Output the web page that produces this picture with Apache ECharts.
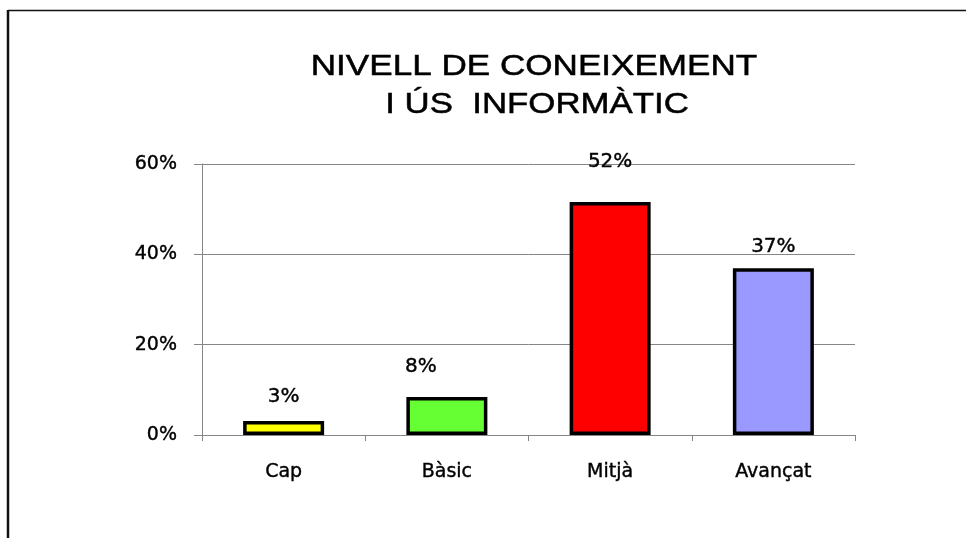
<!DOCTYPE html>
<html>
<head>
<meta charset="utf-8">
<script src="https://cdn.jsdelivr.net/npm/echarts@6/dist/echarts.min.js"></script>
<style>
html,body{margin:0;padding:0;background:#fff;}
#chart{width:966px;height:538px;}
</style>
</head>
<body>
<div id="chart"></div>
<script>
var categories = ['Cap', 'Bàsic', 'Mitjà', 'Avançat'];
var values = [3.1, 8.4, 51.6, 36.9];
var barColors = ['#FFFF00', '#66FF33', '#FF0000', '#9999FF'];
var yTicks = [0, 20, 40, 60];
var titleLines = ['NIVELL DE CONEIXEMENT', 'I ÚS  INFORMÀTIC'];
// label placement styling (as in the original picture)
var labelGaps = [14, 20, 30, 12];
var labelShiftX = [0, -26, 0, 0];

var chart = echarts.init(document.getElementById('chart'));
var seriesData = values.map(function (v, i) {
  return {
    value: v,
    itemStyle: { color: barColors[i] },
    label: { distance: labelGaps[i], offset: [labelShiftX[i], 0] }
  };
});

var labelFont = '"DejaVu Sans", sans-serif';
var option = {
  backgroundColor: '#ffffff',
  animation: false,
  graphic: [
    { type: 'line', shape: { x1: 8, y1: 10.5, x2: 980, y2: 10.5 }, style: { stroke: '#111', lineWidth: 1.5 } },
    { type: 'line', shape: { x1: 8, y1: 10, x2: 8, y2: 560 }, style: { stroke: '#111', lineWidth: 2.5 } },
    { type: 'text', x: 534, y: 81, scaleX: 1.21, style: { text: titleLines[0], fill: '#000', stroke: '#000', lineWidth: 0.5, font: '29px "Liberation Sans", Arial, sans-serif', textAlign: 'center', textVerticalAlign: 'bottom' } },
    { type: 'text', x: 537, y: 119, scaleX: 1.2, style: { text: titleLines[1], fill: '#000', stroke: '#000', lineWidth: 0.5, font: '29px "Liberation Sans", Arial, sans-serif', textAlign: 'center', textVerticalAlign: 'bottom' } }
  ],
  grid: { left: 202, right: 111, top: 164, bottom: 103, containLabel: false },
  xAxis: {
    type: 'category',
    data: categories,
    boundaryGap: true,
    axisLine: { lineStyle: { color: '#868686', width: 1 } },
    axisTick: { show: true, length: 6, alignWithLabel: false, lineStyle: { color: '#868686' } },
    axisLabel: { color: '#000', fontFamily: labelFont, fontSize: 19, margin: 28, textBorderColor: '#000', textBorderWidth: 0.4 }
  },
  yAxis: {
    type: 'value',
    min: yTicks[0],
    max: yTicks[yTicks.length - 1],
    interval: yTicks[1] - yTicks[0],
    axisLine: { show: true, lineStyle: { color: '#868686', width: 1 } },
    axisTick: { show: true, length: 8, lineStyle: { color: '#868686' } },
    splitLine: { show: true, lineStyle: { color: '#868686', width: 1 } },
    axisLabel: { color: '#000', fontFamily: labelFont, fontSize: 19, margin: 25, textBorderColor: '#000', textBorderWidth: 0.4, formatter: function (v) { return v + '%'; } }
  },
  series: [{
    type: 'bar',
    data: seriesData,
    barWidth: 81,
    itemStyle: { borderColor: '#000', borderWidth: 3.5 },
    label: {
      show: true,
      position: 'top',
      color: '#000',
      fontFamily: labelFont,
      fontSize: 20,
      textBorderColor: '#000',
      textBorderWidth: 0.4,
      formatter: function (p) { return Math.round(p.value) + '%'; }
    }
  }]
};
chart.setOption(option);
</script>
</body>
</html>
